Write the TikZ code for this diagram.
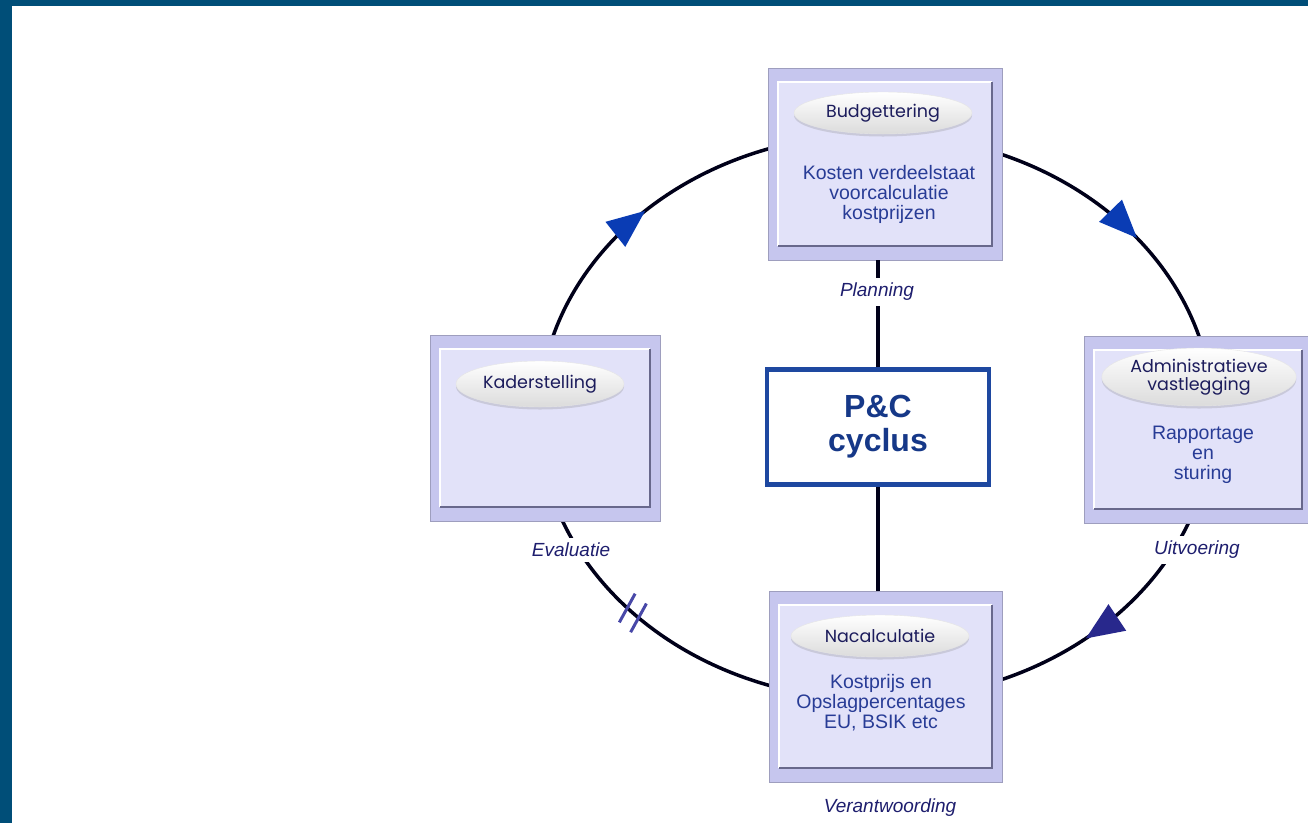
\documentclass[tikz,border=0pt]{standalone}
\usepackage{fontspec}
\setmainfont{Liberation Sans}
\newfontfamily\tagfont{Poppins}
\usetikzlibrary{arrows.meta,positioning,calc,shapes.geometric,decorations.markings,shadows}
\definecolor{framebar}{RGB}{0,78,120}
\definecolor{cardframe}{RGB}{198,198,238}
\definecolor{cardface}{RGB}{226,226,249}
\definecolor{cardline}{RGB}{104,104,140}
\definecolor{tagtext}{RGB}{28,28,92}
\definecolor{bodytext}{RGB}{40,60,150}
\definecolor{pcblue}{RGB}{30,72,160}
\definecolor{pctext}{RGB}{22,56,136}
\definecolor{arrowblue}{RGB}{10,60,180}
\definecolor{arrownavy}{RGB}{40,40,140}
\definecolor{phasetext}{RGB}{30,30,110}
\definecolor{breakcol}{RGB}{72,72,168}

\begin{document}
\begin{tikzpicture}[x=1pt, y=1pt,
        card/.style={rectangle, fill=cardframe, draw=cardframe!80!black, line width=0.8pt, inner sep=0pt,
            path picture={
                \fill[cardface] ([shift={(10pt,14pt)}]path picture bounding box.south west)
                    rectangle ([shift={(-10pt,-14pt)}]path picture bounding box.north east);
                \draw[white, line width=1.6pt] ([shift={(10pt,14pt)}]path picture bounding box.south west)
                    |- ([shift={(-10pt,-14pt)}]path picture bounding box.north east);
                \draw[cardline, line width=1.6pt] ([shift={(10pt,14pt)}]path picture bounding box.south west)
                    -| ([shift={(-10pt,-14pt)}]path picture bounding box.north east);}},
        tag/.style={ellipse, inner sep=0pt, top color=white, bottom color=black!14, draw=black!10,
            line width=0.4pt, align=center, text=tagtext, font=\tagfont\fontsize{17.5}{18}\selectfont,
            drop shadow={shadow xshift=0pt, shadow yshift=-2.5pt, opacity=0.25}},
        body/.style={inner sep=0pt, align=center, text=bodytext, font=\fontsize{19.5}{20}\selectfont},
        phase/.style={fill=white, inner sep=5pt, text=phasetext, font=\itshape\fontsize{19}{20}\selectfont},
        pcbox/.style={draw=pcblue, line width=4.5pt, fill=white, align=center, text=pctext,
            minimum width=222pt, minimum height=115pt, font=\bfseries\fontsize{32}{34}\selectfont},
        cyc/.style={draw=black!90!blue, line width=3.5pt},
        flow/.style 2 args={cyc, postaction={decorate}, decoration={markings,
            mark=at position #2 with {\arrow{Triangle[length=38pt, width=31pt, color=#1]}}}},
        broken/.style={cyc, postaction={decorate}, decoration={markings,
            mark=at position 0.56 with {\draw[breakcol, line width=3pt] (-11pt,16pt) -- (-4pt,-16pt);
                \draw[breakcol, line width=3pt] (4pt,16pt) -- (11pt,-16pt);}}},
        link/.style={draw=black!90!blue, line width=3.5pt}]
    \useasboundingbox (0,0) rectangle (1308,-823);
    \fill[framebar] (0,0) rectangle (12,-823);
    \fill[framebar] (0,0) rectangle (1308,-6);
    % cycle
    \coordinate (c) at (876,-417);
    \coordinate (k1) at ($(c)+(164:337pt and 283pt)$);
    \coordinate (b1) at ($(c)+(69:337pt and 283pt)$);
    \coordinate (a1) at ($(c)+(-21:337pt and 283pt)$);
    \coordinate (n1) at ($(c)+(-108:337pt and 283pt)$);
    \draw[flow={arrowblue}{0.53}] (k1) arc[start angle=164, end angle=108, x radius=337pt, y radius=283pt];
    \draw[flow={arrowblue}{0.58}] (b1) arc[start angle=69, end angle=16, x radius=337pt, y radius=283pt];
    \draw[flow={arrownavy}{0.62}] (a1) arc[start angle=-21, end angle=-69, x radius=337pt, y radius=283pt];
    \draw[broken] (n1) arc[start angle=-108, end angle=-160, x radius=337pt, y radius=283pt];
    % boxes
    \node[card, minimum width=234pt, minimum height=192pt] (budget) at (885,-164) {};
    \node[card, minimum width=230pt, minimum height=186pt] (kader) at (545,-428) {};
    \node[card, minimum width=228pt, minimum height=187pt] (admin) at (1198,-429.5) {};
    \node[card, minimum width=233pt, minimum height=191pt] (nacalc) at (885.5,-686.5) {};
    \node[tag, minimum width=178pt, minimum height=42pt] (budgettag) at (883,-113) {Budgettering};
    \node[tag, minimum width=168pt, minimum height=46pt] (kadertag) at (540,-384) {Kaderstelling};
    \node[tag, minimum width=166pt, minimum height=58pt] (admintag) at (1199,-377) {Administratieve\\vastlegging};
    \node[tag, minimum width=178pt, minimum height=42pt] (nacalctag) at (880,-636) {Nacalculatie};
    \node[body] (budgettxt) at (889,-194) {Kosten verdeelstaat\\voorcalculatie\\kostprijzen};
    \node[body] (admintxt) at (1203,-455) {Rapportage\\en\\sturing};
    \node[body] (nacalctxt) at (881,-703) {Kostprijs en\\Opslagpercentages\\EU, BSIK etc};
    \node[pcbox] (pc) at (878,-427) {P\&C\\cyclus};
    \draw[link] (pc.north) -- (pc.north |- budget.south);
    \draw[link] (pc.south) -- (pc.south |- nacalc.north);
    \node[phase] (planning) at (877,-292) {Planning};
    \node[phase] (evaluatie) at (571,-550) {Evaluatie};
    \node[phase] (uitvoering) at (1197,-550) {Uitvoering};
    \node[phase] (verantw) at (890,-808) {Verantwoording};
\end{tikzpicture}
\end{document}
